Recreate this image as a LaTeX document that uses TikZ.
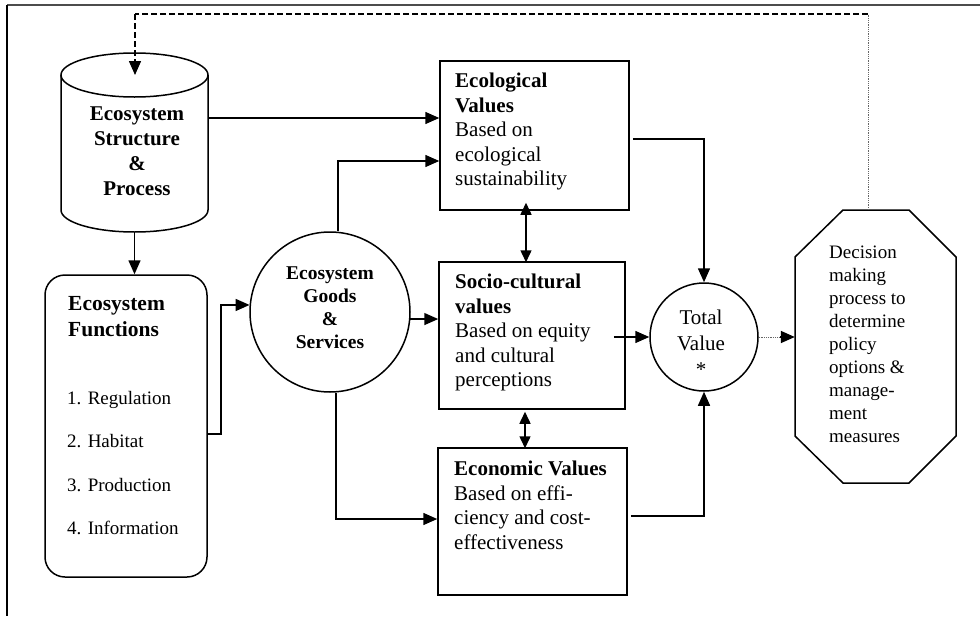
\documentclass[tikz,border=0pt]{standalone}
\usepackage{fontspec}
\setmainfont{Liberation Serif}
\usetikzlibrary{arrows.meta}
\begin{document}
\begin{tikzpicture}[x=1pt,y=-1pt,
  lw/.style={line width=1.5pt},
  boxshape/.style={draw,lw,rectangle,inner sep=0pt},
  circshape/.style={draw,lw,circle,inner sep=0pt},
  ghost/.style={inner sep=0pt},
  arr/.style={lw,-{Triangle[length=14pt,width=12pt]}},
  dbl/.style={lw,{Triangle[length=12pt,width=11pt]}-{Triangle[length=12pt,width=11pt]}},
  bigtxt/.style={inner sep=0pt,align=left,font=\fontsize{21}{24.5}\selectfont},
  ctrtxt/.style={inner sep=0pt,align=center},
]
\useasboundingbox (0,0) rectangle (980,616);
% frame
\draw[line width=2pt,black!70] (7,5) -- (980,5);
\draw[line width=1.5pt] (7,5) -- (7,616);

% cylinder
\draw[lw] (61,75) -- (61,210) arc[start angle=180,end angle=360,x radius=73.5pt,y radius=22pt] -- (208,75);
\draw[lw] (134.5,75) ellipse[x radius=73.5pt,y radius=22pt];
\node[ghost,minimum width=147pt,minimum height=180pt] (cyl) at (134.5,142) {};
\node[ctrtxt,anchor=north,font=\fontsize{21}{25}\selectfont\bfseries] (cylT) at (137,107) {Ecosystem\\Structure\\\&\\Process};

% functions
\node[draw,lw,rectangle,rounded corners=20pt,minimum width=162pt,minimum height=302pt,inner sep=0pt] (funcs) at (126,426) {};
\node[inner sep=0pt,align=left,anchor=north west,font=\fontsize{21.5}{26}\selectfont\bfseries] (funT) at (68,296.5) {Ecosystem\\Functions};
\node[inner sep=0pt,align=left,anchor=north west,font=\fontsize{19}{43.5}\selectfont] (funI) at (67,391) {1. Regulation\\2. Habitat\\3. Production\\4. Information};

% goods
\node[circshape,minimum size=160pt] (goods) at (330,312) {};
\node[ctrtxt,anchor=north,font=\fontsize{19.5}{23}\selectfont\bfseries] (goodsT) at (330,267) {Ecosystem\\Goods\\\&\\Services};

% value boxes
\node[boxshape,minimum width=189pt,minimum height=149pt] (eco) at (534.5,135.5) {};
\node[bigtxt,anchor=north west] (ecoT) at (455,73) {\textbf{Ecological}\\\textbf{Values}\\Based on\\ecological\\sustainability};
\node[boxshape,minimum width=186pt,minimum height=147pt] (soc) at (532,335.5) {};
\node[bigtxt,anchor=north west] (socT) at (455,274) {\textbf{Socio-cultural}\\\textbf{values}\\Based on equity\\and cultural\\perceptions};
\node[boxshape,minimum width=189pt,minimum height=147pt] (ecn) at (532.5,521.5) {};
\node[bigtxt,anchor=north west] (ecnT) at (454,461) {\textbf{Economic Values}\\Based on effi-\\ciency and cost-\\effectiveness};

% total
\node[circshape,minimum size=108pt] (tot) at (704,337) {};
\node[ctrtxt,anchor=north,font=\fontsize{21}{26}\selectfont] (totT) at (701,310) {Total\\Value\\*};

% decision octagon
\draw[lw] (843,210) -- (909,210) -- (956,257) -- (956,436) -- (909,483) -- (843,483) -- (795,436) -- (795,257) -- cycle;
\node[ghost,minimum width=161pt,minimum height=273pt] (dec) at (875.5,346.5) {};
\node[inner sep=0pt,align=left,anchor=north west,font=\fontsize{19}{23}\selectfont] (decT) at (829,246) {Decision\\making\\process to\\determine\\policy\\options \&\\manage-\\ment\\measures};

% connectors
\coordinate (fbA) at (868,14);
\coordinate (fbB) at (135,14);
\coordinate (fbEnd) at (135,75);
\draw[line width=0.8pt,black!60,densely dotted] ([xshift=-7.5pt]dec.north) -- (fbA);
\draw[lw,dashed,dash pattern=on 6pt off 3pt] (fbA) -- (fbB);
\draw[arr,dashed,dash pattern=on 6pt off 3pt] (fbB) -- (fbEnd);

\draw[arr] (cyl.south) -- (cyl.south |- funcs.north);
\draw[arr] (cyl.east |- 0,118) -- (eco.west |- 0,118);
\draw[arr] (funcs.east |- 0,434) -- (221,434) |- (goods.175);
\draw[arr] ([xshift=8pt]goods.north) |- (eco.west |- 0,161);
\draw[arr] (goods.-5) -- (soc.west |- goods.-5);
\draw[arr] ([xshift=6pt]goods.south) |- (ecn.west |- 0,519);
\draw[dbl] ([yshift=8pt]eco.south -| 526,0) -- ([yshift=-1pt]soc.north -| 526,0);
\draw[dbl] ([yshift=-2pt]soc.south -| 525,0) -- ([yshift=-1pt]ecn.north -| 525,0);
\draw[arr] ([xshift=3pt]eco.east |- 0,139) -| (tot.north);
\draw[arr] ([xshift=-12pt]soc.east |- tot.west) -- (tot.west);
\draw[arr] ([xshift=3pt]ecn.east |- 0,516) -| (tot.south);
\draw[line width=0.8pt,black!60,densely dotted] (tot.east) -- (782,337);
\draw[arr] (780,337) -- (dec.west |- tot.east);
\end{tikzpicture}
\end{document}
